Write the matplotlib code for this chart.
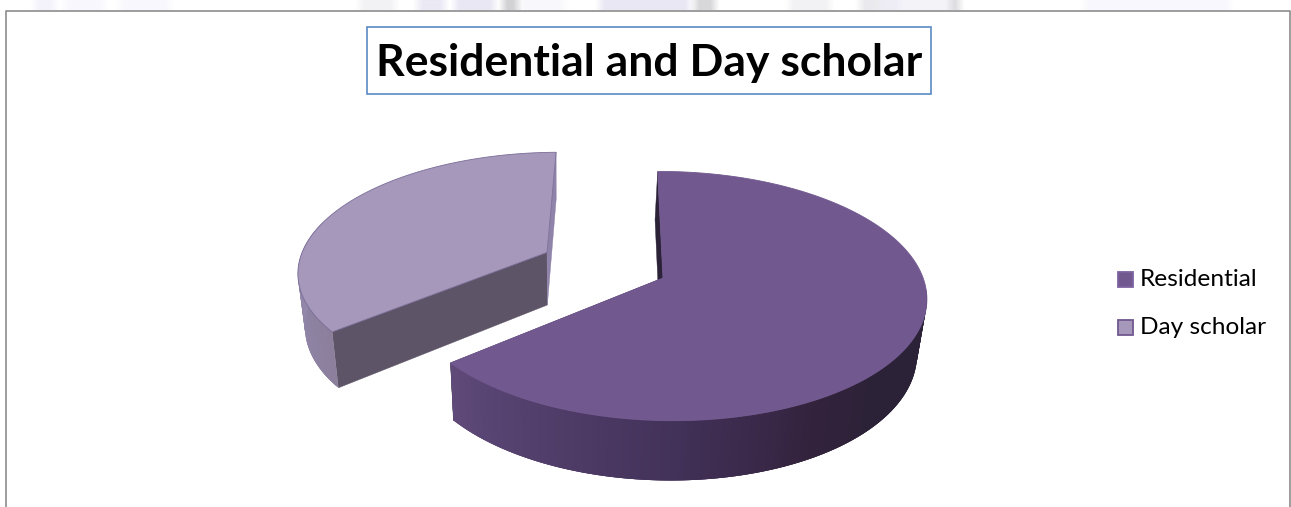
import numpy as np
import matplotlib
matplotlib.use('Agg')
import matplotlib.pyplot as plt
from matplotlib.collections import PolyCollection
from matplotlib.patches import Rectangle

title = 'Residential and Day scholar'
categories = ['Residential', 'Day scholar']
values = [64, 36]
explode = [0.0, 0.51]

top_colors = ['#71588f', '#a598bb']
legend_edges = ['#7d63a0', '#71588f']
outline_colors = ['#71588f', '#7b6d98']
cut_colors = ['#2b2238', '#5e5468']
back_colors = ['#2b2238', '#8f83a9']

# rim shading, keyed on the angle clockwise from twelve o'clock
rim_angles = [[95, 135, 150, 180, 230.4], [230.4, 250, 285]]
rim_shades = [['#2b2238', '#2c2238', '#33223c', '#43325a', '#5f4a7a'],
              ['#8b7f9c', '#9084a6', '#988cb0']]

# page watermark showing above the chart: (from x, to x, colour)
page_marks = [(35, 55, '#f5f3fb'), (65, 105, '#f9f8fd'), (120, 170, '#f9f8fd'),
              (360, 395, '#f3f3f6'), (418, 445, '#ebe9f5'), (455, 495, '#eae8f4'),
              (503, 518, '#d2d2d6'), (520, 565, '#f9f9fc'), (600, 690, '#eae8f4'),
              (695, 715, '#d8d8db'), (790, 830, '#f2f2f5'), (860, 880, '#ebebee'),
              (880, 900, '#eeecf6'), (900, 950, '#f5f4f9'), (950, 960, '#dedee2'),
              (1085, 1230, '#f8f7fd')]

# perspective of the pie disc
CX, CY = 663, 278
R, RB = 257.5, 122
K, M = 0.145, -0.01
SHEAR = -0.05
FOCUS_X = 560


def project(u, v):
    denom = 1 + K * v + M * u
    y = CY - RB * v / denom
    x = CX + R * u / denom + SHEAR * (CY - y)
    return x, y, denom


def lower(x, y, denom):
    return x + 0.027 * (FOCUS_X - x), y + 94 - 40 * denom


def hex_rgb(c):
    return np.array(matplotlib.colors.to_rgb(c))


def shade(theta, angles, shades):
    rgb = np.array([hex_rgb(c) for c in shades])
    return [np.interp(theta, angles, rgb[:, i]) for i in range(3)]


fig = plt.figure(figsize=(12.91, 5.07), dpi=100)
ax = fig.add_axes([0, 0, 1, 1])

strip = np.ones((1, 1291, 3))
for x0, x1, c in page_marks:
    strip[0, x0:x1] = hex_rgb(c)
kernel = np.ones(9) / 9
for ch in range(3):
    strip[0, :, ch] = np.convolve(np.pad(strip[0, :, ch], 4, mode='edge'), kernel, mode='valid')
ax.imshow(strip, extent=[0, 1291, 10, 0], aspect='auto', interpolation='bilinear')

ax.set_xlim(0, 1291)
ax.set_ylim(507, 0)
ax.axis('off')

# chart frame, cut by the page at the bottom
ax.plot([5.5, 5.5, 1290, 1290], [507, 10.5, 10.5, 507], color='#8c8c8c', lw=1.2)

ax.add_patch(Rectangle((367, 26.5), 564, 67.5, fc='white', ec='#5b8bc4', lw=1.2))
ax.text(649, 63, title, fontsize=32, fontweight='bold', family='Lato',
        ha='center', va='center', color='black')

# draw the slices, far one first
start = 0.0
slices = []
for i, val in enumerate(values):
    end = start + 360.0 * val / sum(values)
    slices.append((i, start, end))
    start = end

for i, a0, a1 in reversed(slices):
    mid = np.radians((a0 + a1) / 2)
    du, dv = explode[i] * np.sin(mid), explode[i] * np.cos(mid)
    thetas = np.linspace(a0, a1, 241)
    t = np.radians(thetas)
    arc = [project(du + np.sin(a), dv + np.cos(a)) for a in t]
    apex = project(du, dv)

    top = [apex[:2]] + [p[:2] for p in arc]
    rim = [lower(*p) for p in arc]

    # walls left by the cut
    for p, c in ((arc[0], cut_colors[i]), (arc[-1], back_colors[i])):
        wall = [apex[:2], p[:2], lower(*p), lower(*apex)]
        ax.fill(*zip(*wall), fc=c, ec=c, lw=0.3)

    # outer rim in thin strips, each lapping over the next so no seams show
    quads = []
    cols = []
    for j in range(len(arc) - 1):
        mean_theta = (thetas[j] + thetas[j + 1]) / 2
        if mean_theta < rim_angles[i][0] or mean_theta > rim_angles[i][-1]:
            continue
        k = min(j + 3, len(arc) - 1)
        quads.append([arc[j][:2], arc[k][:2], rim[k], rim[j]])
        cols.append(shade(mean_theta, rim_angles[i], rim_shades[i]))
    ax.add_collection(PolyCollection(quads, facecolors=cols, edgecolors='none', linewidths=0))

    ax.fill(*zip(*top), fc=top_colors[i], ec=outline_colors[i], lw=0.6)

# legend
for i, name in enumerate(categories):
    ypos = 279 + 48 * i
    ax.add_patch(Rectangle((1117.5, ypos - 7.5), 15, 15, fc=top_colors[i], ec=legend_edges[i], lw=1.3))
    ax.text(1140, ypos + 1, name, fontsize=17.6, family='Lato', ha='left', va='center', color='black')

fig.savefig('out.png', dpi=100)
